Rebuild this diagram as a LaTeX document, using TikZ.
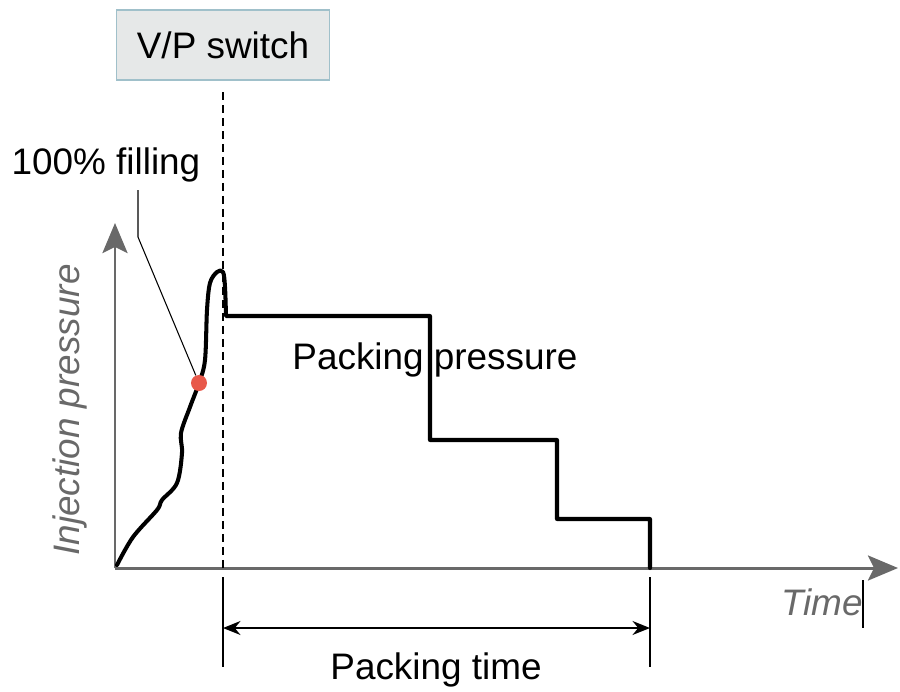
\documentclass[tikz,border=0pt]{standalone}
\usepackage{fontspec}
\setmainfont{Liberation Sans}
\usetikzlibrary{arrows.meta, positioning}

\definecolor{axisgrey}{RGB}{105,105,105}
\definecolor{boxfill}{RGB}{230,232,232}
\definecolor{boxedge}{RGB}{160,192,202}
\definecolor{dotred}{RGB}{232,88,74}

\begin{document}
\begin{tikzpicture}[x=0.02cm, y=-0.02cm]
    \tikzstyle{axis} = [
        draw=axisgrey, line width=1.7pt,
        -{Stealth[length=0.6cm, width=0.5cm, inset=0.12cm]}
    ]

    \tikzstyle{txt} = [font=\fontsize{21}{25}\selectfont, inner sep=0pt]

    \tikzstyle{axis_label} = [txt, font=\fontsize{21}{25}\selectfont\itshape, text=axisgrey]

    \tikzstyle{curve} = [line width=2.3pt, line join=round, line cap=round]

    \tikzstyle{thin} = [line width=0.6pt]

    \useasboundingbox (0,0) rectangle (900,691);

    % Axes
    \coordinate (origin) at (115,568);
    \coordinate (y_end) at (115,223);
    \coordinate (x_end) at (898,568);
    \draw[axis] (origin) -- (y_end);
    \draw[axis] (origin) -- (x_end);

    \node[axis_label, rotate=90] (y_label) at (70,410) {Injection pressure};
    \node[axis_label] (x_label) at (822,602) {Time};
    \coordinate (bar_top) at (863,580);
    \coordinate (bar_bottom) at (863,628);
    \draw[thin] (bar_top) -- (bar_bottom);

    % V/P switch
    \node[txt, draw=boxedge, fill=boxfill, line width=0.8pt,
          minimum width=4.26cm, minimum height=1.4cm] (vp_switch) at (223,45) {V/P switch};
    \coordinate (vp_top) at (223,92);
    \coordinate (vp_axis) at (223,568);
    \draw[thin, dash pattern=on 0.16cm off 0.1cm] (vp_top) -- (vp_axis);

    % Pressure curve
    \draw[curve] plot[smooth, tension=0.55] coordinates {
        (117,565) (133,537) (157,510) (162,500) (177,483) (182,453)
        (181,433) (190,407) (199,383) (205,360) (207,310) (210,283)
        (217,272) (223,272) (225,287) (226,316)
    } -- (430,316) -- (430,440) -- (557,440) -- (557,519) -- (650,519) -- (650,568);

    \node[txt] (packing_pressure) at (435,360) {Packing pressure};

    % 100% filling
    \node[circle, fill=dotred, minimum size=0.32cm, inner sep=0pt] (fill_dot) at (199,383) {};
    \node[txt] (filling) at (106,165) {100\% filling};
    \coordinate (lead_top) at (138,190);
    \coordinate (bend) at (138,237);
    \draw[thin] (lead_top) -- (bend) -- (fill_dot);

    % Packing time
    \coordinate (pt_start) at (223,577);
    \coordinate (pt_end) at (650,577);
    \coordinate (pt_left) at (223,628);
    \coordinate (pt_right) at (650,628);
    \draw[thin] (pt_start) -- ++(0,90);
    \draw[thin] (pt_end) -- ++(0,90);
    \draw[line width=0.8pt, {Stealth[length=0.35cm, width=0.28cm]}-{Stealth[length=0.35cm, width=0.28cm]}]
        (pt_left) -- (pt_right);
    \node[txt] (packing_time) at (436,670) {Packing time};

\end{tikzpicture}
\end{document}
